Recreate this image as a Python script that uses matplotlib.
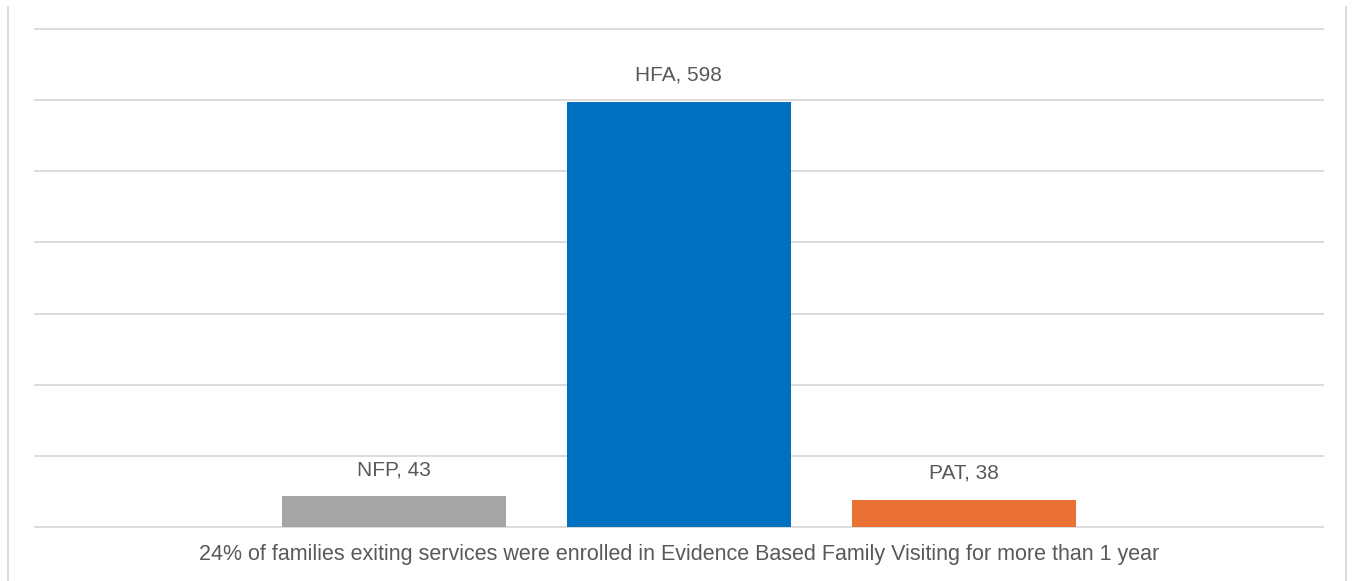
import matplotlib
matplotlib.use("Agg")
import matplotlib.pyplot as plt
from matplotlib.lines import Line2D

series = ["NFP", "HFA", "PAT"]
values = [43, 598, 38]
colors = ["#A5A5A5", "#0070C0", "#E97132"]
xlabel = "24% of families exiting services were enrolled in Evidence Based Family Visiting for more than 1 year"
yticks = [0, 100, 200, 300, 400, 500, 600, 700]

W, H = 1352, 581
fig = plt.figure(figsize=(W / 100, H / 100), dpi=100)
plt.rcParams['font.family'] = ['Liberation Sans', 'DejaVu Sans']

ax = fig.add_axes([35 / W, 1 - 527 / H, (1323 - 35) / W, (527 - 29) / H])
ax.set_xlim(-1.258, 3.261)
ax.set_ylim(0, 700)
ax.set_yticks(yticks)
ax.yaxis.grid(True, color="#D9D9D9", linewidth=1.3)
for gl in ax.get_ygridlines():
    gl.set_clip_on(False)
ax.set_axisbelow(True)
for s in ax.spines.values():
    s.set_visible(False)
ax.tick_params(left=False, bottom=False, labelleft=False, labelbottom=False)

pos = list(range(len(series)))
bars = ax.bar(pos, values, width=0.786, color=colors, zorder=2)
for b, name, v in zip(bars, series, values):
    ax.annotate(f"{name}, {v}", (b.get_x() + b.get_width() / 2, v),
                xytext=(0, 12.5), textcoords="offset points", ha="center", va="bottom",
                fontsize=15, color="#595959")

ax.text(0.5, -0.055, xlabel, transform=ax.transAxes, ha="center", va="center",
        fontsize=15.5, color="#595959")

# outer frame lines
for xp in (8, 1346):
    fig.add_artist(Line2D([xp / W, xp / W], [0, 1 - 7 / H], color="#D9D9D9", linewidth=1.3))

fig.savefig("out.png", dpi=100, facecolor="white")
